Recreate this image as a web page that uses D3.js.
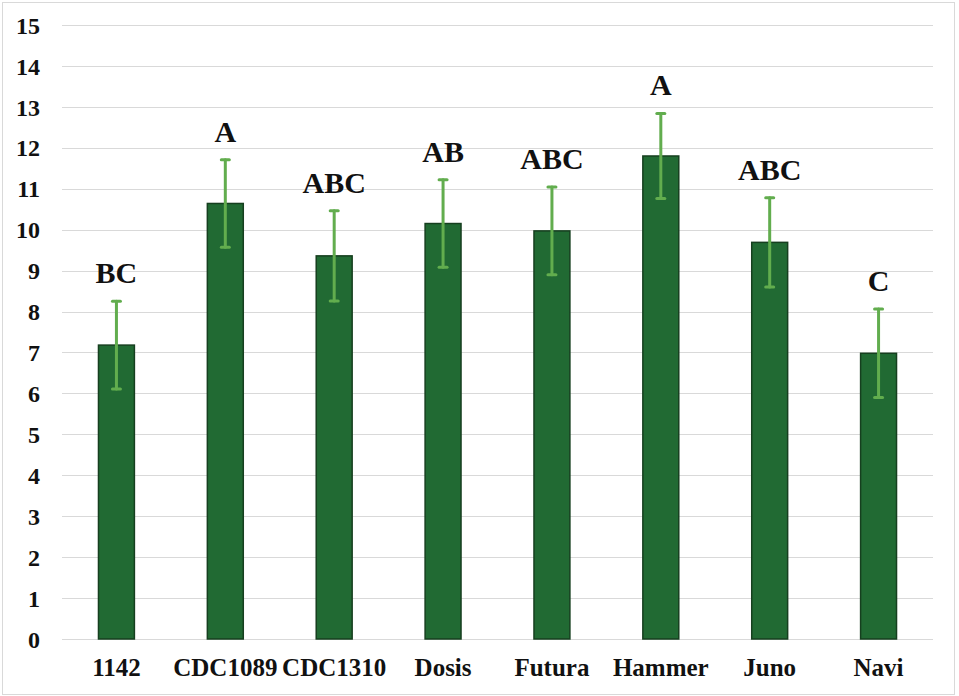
<!DOCTYPE html>
<html>
<head>
<meta charset="utf-8">
<script src="https://cdn.jsdelivr.net/npm/d3@7"></script>
<style>
  html, body { margin: 0; padding: 0; background: #ffffff; }
  svg { display: block; }
  text { font-family: "Liberation Serif", "Times New Roman", serif; font-weight: bold; fill: #111; }
</style>
</head>
<body>
<svg id="chart" width="959" height="696"></svg>
<script>
// Cultivars, mean values, error (±) and significance letters
const categories = ["1142", "CDC1089", "CDC1310", "Dosis", "Futura", "Hammer", "Juno", "Navi"];
const means      = [7.18, 10.64, 9.36, 10.15, 9.97, 11.80, 9.69, 6.98];
const errors     = [1.07, 1.07, 1.10, 1.07, 1.07, 1.04, 1.09, 1.08];
const letters    = ["BC", "A", "ABC", "AB", "ABC", "A", "ABC", "C"];
const yTicks     = d3.range(0, 16, 1);

const svg = d3.select("#chart");
const W = 959, H = 696;
const margin = { left: 62, right: 26, top: 25, bottom: 57 };
const serif = "'Liberation Serif', 'Times New Roman', serif";

// outer frame
svg.append("rect")
  .attr("x", 2.5).attr("y", 2.5)
  .attr("width", 952).attr("height", 692)
  .attr("fill", "#fff").attr("stroke", "#d9d9d9").attr("stroke-width", 1);

const x = d3.scaleBand()
  .domain(categories)
  .range([margin.left, W - margin.right])
  .paddingInner(0.67).paddingOuter(0.335);

const y = d3.scaleLinear()
  .domain([0, 15])
  .range([H - margin.bottom, margin.top]);

// horizontal gridlines
svg.append("g")
  .selectAll("line")
  .data(yTicks)
  .join("line")
  .attr("x1", margin.left).attr("x2", W - margin.right)
  .attr("y1", d => Math.round(y(d)) + 0.5).attr("y2", d => Math.round(y(d)) + 0.5)
  .attr("stroke", "#d9d9d9").attr("stroke-width", 1);

// y axis labels
const yAxis = d3.axisLeft(y).tickValues(yTicks).tickSize(0).tickPadding(0);
const gy = svg.append("g")
  .attr("transform", `translate(${margin.left - 22},0)`)
  .call(yAxis);
gy.select(".domain").remove();
gy.attr("font-family", null).attr("font-size", null);
gy.selectAll("text")
  .style("font-family", serif)
  .style("font-size", "24px")
  .style("font-weight", "bold")
  .attr("fill", "#111")
  .attr("dy", "0.34em");

// x axis labels
const xAxis = d3.axisBottom(x).tickSize(0).tickPadding(0);
const gx = svg.append("g")
  .attr("transform", `translate(0,${y(0)})`)
  .call(xAxis);
gx.select(".domain").remove();
gx.attr("font-family", null).attr("font-size", null);
gx.selectAll("text")
  .style("font-family", serif)
  .style("font-size", "25px")
  .style("font-weight", "bold")
  .attr("fill", "#111")
  .attr("y", 37)
  .attr("dy", 0);

const data = categories.map((c, i) => ({ c, m: means[i], e: errors[i], l: letters[i] }));

// bars
svg.append("g")
  .selectAll("rect")
  .data(data)
  .join("rect")
  .attr("x", d => x(d.c))
  .attr("y", d => y(d.m))
  .attr("width", x.bandwidth())
  .attr("height", d => y(0) - y(d.m))
  .attr("fill", "#216a33")
  .attr("stroke", "#163f1f")
  .attr("stroke-width", 1.5);

// error bars
const eb = svg.append("g").attr("stroke", "#62ad4e").attr("stroke-linecap", "round");
const cx = d => x(d.c) + x.bandwidth() / 2;
eb.selectAll("line.v")
  .data(data)
  .join("line")
  .attr("class", "v")
  .attr("x1", cx).attr("x2", cx)
  .attr("y1", d => y(d.m + d.e)).attr("y2", d => y(d.m - d.e))
  .attr("stroke-width", 3);
["top", "bot"].forEach(k => {
  eb.selectAll("line." + k)
    .data(data)
    .join("line")
    .attr("class", k)
    .attr("x1", d => cx(d) - 4).attr("x2", d => cx(d) + 4)
    .attr("y1", d => y(k === "top" ? d.m + d.e : d.m - d.e))
    .attr("y2", d => y(k === "top" ? d.m + d.e : d.m - d.e))
    .attr("stroke-width", 3);
});

// significance letters
svg.append("g")
  .selectAll("text")
  .data(data)
  .join("text")
  .attr("x", cx)
  .attr("y", d => y(d.m + d.e) - 18)
  .attr("text-anchor", "middle")
  .style("font-family", serif)
  .style("font-size", "30px")
  .style("font-weight", "bold")
  .text(d => d.l);
</script>
</body>
</html>
